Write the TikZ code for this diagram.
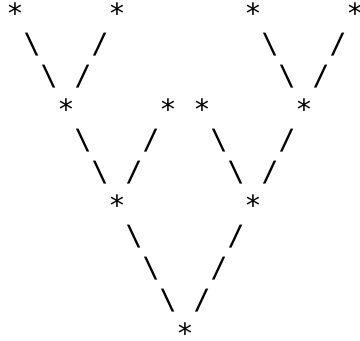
\documentclass[tikz,border=0pt]{standalone}
\usepackage{fontspec}
\setmonofont{DejaVu Sans Mono}
\begin{document}
\begin{tikzpicture}[x=17pt, y=-32pt,
  every node/.style={font=\fontsize{28}{32}\selectfont\ttfamily, inner sep=0pt, anchor=center}]
\useasboundingbox (-0.882, -0.406) rectangle (20.294, 10.25);
% top row
\node (t1) at (0, 0) {*} ;
\node (t2) at (6, 0) {*} ;
\node (t3) at (14, 0) {*} ;
\node (t4) at (20, 0) {*} ;
\node (l1a) at (1, 1) {\textbackslash} ;
\node (r1a) at (5, 1) {/} ;
\node (l1b) at (15, 1) {\textbackslash} ;
\node (r1b) at (19, 1) {/} ;
\node (l2a) at (2, 2) {\textbackslash} ;
\node (r2a) at (4, 2) {/} ;
\node (l2b) at (16, 2) {\textbackslash} ;
\node (r2b) at (18, 2) {/} ;
% second row
\node (m1) at (3, 3) {*} ;
\node (m2) at (9, 3) {*} ;
\node (m3) at (11, 3) {*} ;
\node (m4) at (17, 3) {*} ;
\node (l4a) at (4, 4) {\textbackslash} ;
\node (r4a) at (8, 4) {/} ;
\node (l4b) at (12, 4) {\textbackslash} ;
\node (r4b) at (16, 4) {/} ;
\node (l5a) at (5, 5) {\textbackslash} ;
\node (r5a) at (7, 5) {/} ;
\node (l5b) at (13, 5) {\textbackslash} ;
\node (r5b) at (15, 5) {/} ;
% third row
\node (n1) at (6, 6) {*} ;
\node (n2) at (14, 6) {*} ;
\node (l7) at (7, 7) {\textbackslash} ;
\node (r7) at (13, 7) {/} ;
\node (l8) at (8, 8) {\textbackslash} ;
\node (r8) at (12, 8) {/} ;
\node (l9) at (9, 9) {\textbackslash} ;
\node (r9) at (11, 9) {/} ;
% root
\node (root) at (10, 10) {*} ;
\end{tikzpicture}
\end{document}
